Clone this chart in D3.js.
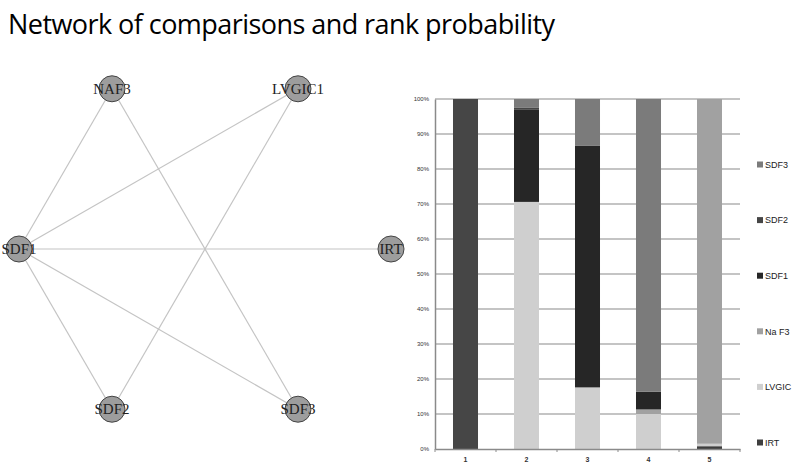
<!DOCTYPE html>
<html>
<head>
<meta charset="utf-8">
<script src="https://cdn.jsdelivr.net/npm/d3@7"></script>
<style>
  body { margin: 0; background: #fff; }
  svg { display: block; }
</style>
</head>
<body>
<div id="chart"></div>
<script>
// data
var nodes = ["NAF3", "LVGIC1", "SDF1", "IRT", "SDF2", "SDF3"];
var edges = [["NAF3","SDF1"], ["NAF3","SDF3"], ["LVGIC1","SDF1"], ["LVGIC1","SDF2"],
             ["SDF1","IRT"], ["SDF1","SDF2"], ["SDF1","SDF3"]];
// node layout on a circle (angle in degrees, 0 = right)
var nodeAngles = [120, 60, 180, 0, 240, 300];

var ranks = ["1", "2", "3", "4", "5"];
var treatments = ["IRT", "LVGIC", "NaF3", "SDF1", "SDF2", "SDF3"];
var legendLabels = ["IRT", "LVGIC", "Na F3", "SDF1", "SDF2", "SDF3"];
var IRT   = [0, 0, 0, 0, 0.8];
var LVGIC = [0, 70.6, 17.6, 10.0, 0.7];
var NaF3  = [0, 0, 0, 1.3, 98.5];
var SDF1  = [0, 26.3, 69.0, 5.1, 0];
var SDF2  = [100, 0.7, 0, 0, 0];
var SDF3  = [0, 2.4, 13.4, 83.6, 0];
var yTicks = [0, 10, 20, 30, 40, 50, 60, 70, 80, 90, 100];

var colors = {IRT: "#3e3e3e", LVGIC: "#cfcfcf", NaF3: "#a1a1a1", SDF1: "#262626", SDF2: "#464646", SDF3: "#7b7b7b"};

var W = 800, H = 470;
var svg = d3.select("#chart").append("svg").attr("width", W).attr("height", H);

// titolo
svg.append("text")
  .attr("x", 8).attr("y", 34)
  .attr("textLength", 547)
  .style("font-family", "'Open Sans', sans-serif")
  .style("font-size", "27px")
  .style("fill", "#000")
  .text("Network of comparisons and rank probability");

// ---- network ----
var cx = 205, cy = 249, rx = 186, ry = 185;
var pos = {};
nodes.forEach(function(n, i) {
  var a = nodeAngles[i] * Math.PI / 180;
  pos[n] = {x: cx + rx * Math.cos(a), y: cy - ry * Math.sin(a)};
});

svg.append("g").selectAll("line")
  .data(edges).enter().append("line")
  .attr("x1", function(d) { return pos[d[0]].x; })
  .attr("y1", function(d) { return pos[d[0]].y; })
  .attr("x2", function(d) { return pos[d[1]].x; })
  .attr("y2", function(d) { return pos[d[1]].y; })
  .style("stroke", "#c4c4c4")
  .style("stroke-width", 1.2);

var ng = svg.append("g").selectAll("g")
  .data(nodes).enter().append("g")
  .attr("transform", function(d) { return "translate(" + pos[d].x + "," + pos[d].y + ")"; });
ng.append("circle")
  .attr("r", 13)
  .style("fill", "#9d9d9d")
  .style("stroke", "#444")
  .style("stroke-width", 1);
ng.append("text")
  .attr("text-anchor", "middle")
  .attr("dy", "0.35em")
  .style("font-family", "'Liberation Serif', serif")
  .style("font-size", "15px")
  .style("fill", "#222")
  .text(function(d) { return d; });

// ---- stacked bars ----
var m = {top: 99, left: 435, width: 305, height: 350};
var g = svg.append("g").attr("transform", "translate(" + m.left + "," + m.top + ")");

var x = d3.scaleBand().domain(ranks).range([0, m.width]).paddingInner(0.59).paddingOuter(0.295);
var xb = d3.scaleBand().domain(ranks).range([0, m.width]);
var y = d3.scaleLinear().domain([0, 100]).range([m.height, 0]);

// gridlines
g.append("g").selectAll("line")
  .data(yTicks.slice(1)).enter().append("line")
  .attr("x1", 0).attr("x2", m.width)
  .attr("y1", function(d) { return y(d); })
  .attr("y2", function(d) { return y(d); })
  .style("stroke", "#8a8a8a")
  .style("stroke-width", 1.2);

var table = ranks.map(function(r, i) {
  return {rank: r, IRT: IRT[i], LVGIC: LVGIC[i], NaF3: NaF3[i], SDF1: SDF1[i], SDF2: SDF2[i], SDF3: SDF3[i]};
});
var stack = d3.stack().keys(treatments)(table);

g.append("g").selectAll("g")
  .data(stack).enter().append("g")
  .style("fill", function(d) { return colors[d.key]; })
  .selectAll("rect")
  .data(function(d) { return d; }).enter().append("rect")
  .attr("x", function(d) { return x(d.data.rank); })
  .attr("width", x.bandwidth())
  .attr("y", function(d) { return y(d[1]); })
  .attr("height", function(d) { return y(d[0]) - y(d[1]); });

// asse Y
var yAxis = g.append("g")
  .call(d3.axisLeft(y).tickValues(yTicks).tickSize(0).tickPadding(6)
    .tickFormat(function(d) { return d + "%"; }));
yAxis.select(".domain").style("stroke", "#8a8a8a").style("stroke-width", 1.5);
yAxis.selectAll("text")
  .style("font-family", "'Liberation Sans', sans-serif")
  .style("font-size", "6px")
  .style("fill", "#333");

// asse X
var xAxis = g.append("g")
  .attr("transform", "translate(0," + m.height + ")")
  .call(d3.axisBottom(xb).tickSize(0).tickPadding(8));
xAxis.select(".domain").style("stroke", "#8a8a8a").style("stroke-width", 1.5);
xAxis.selectAll("text")
  .style("font-family", "'Liberation Sans', sans-serif")
  .style("font-size", "7px")
  .style("font-weight", "bold")
  .style("fill", "#333");
xAxis.append("g").selectAll("line")
  .data(d3.range(ranks.length + 1)).enter().append("line")
  .attr("x1", function(d) { return d * xb.step(); })
  .attr("x2", function(d) { return d * xb.step(); })
  .attr("y1", 0).attr("y2", 3)
  .style("stroke", "#8a8a8a");

// legenda
var leg = svg.append("g").selectAll("g")
  .data(treatments.slice().reverse()).enter().append("g")
  .attr("transform", function(d, i) { return "translate(757," + (165 + i * 55.6) + ")"; });
leg.append("rect")
  .attr("x", 0).attr("y", -3.5).attr("width", 6).attr("height", 6)
  .style("fill", function(d) { return colors[d]; });
leg.append("text")
  .attr("x", 8).attr("dy", "0.32em")
  .style("font-family", "'Liberation Sans', sans-serif")
  .style("font-size", "9px")
  .style("fill", "#222")
  .text(function(d) { return legendLabels[treatments.indexOf(d)]; });
</script>
</body>
</html>
